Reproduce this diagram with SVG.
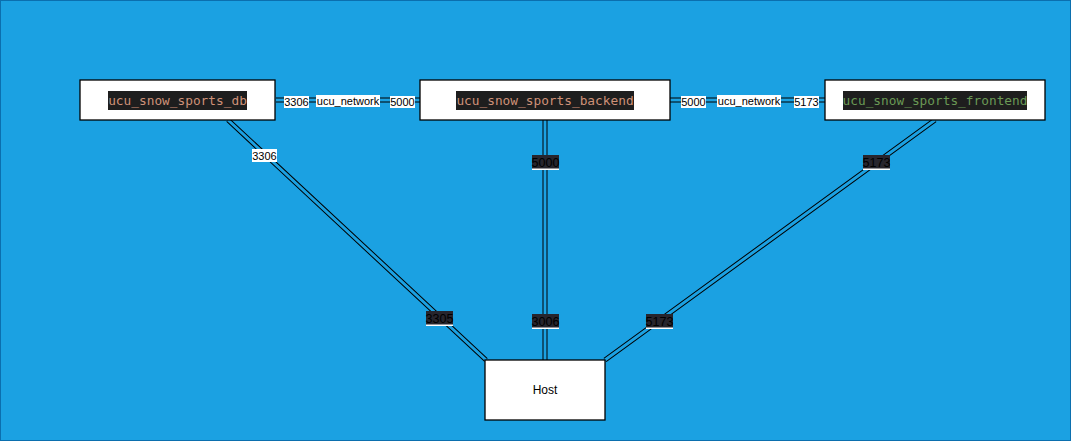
<svg xmlns="http://www.w3.org/2000/svg" width="1071" height="441" viewBox="0 0 1071 441">
<style>
.box{fill:#ffffff;stroke:#000000;stroke-width:1.3}
.mono{font-family:"DejaVu Sans Mono","Liberation Mono",monospace;font-size:12.8px;text-anchor:middle}
.lbl{font-family:"Liberation Sans",Arial,sans-serif;font-size:11px;text-anchor:middle;fill:#000}
.dlbl{font-family:"Liberation Sans",Arial,sans-serif;font-size:12.5px;text-anchor:middle;fill:#000}
.outer{fill:none;stroke:#000;stroke-width:5}
.inner{fill:none;stroke:#1ba1e2;stroke-width:3}
.wbg{fill:#ffffff}
.dbg{fill:#27252d}
</style>
<rect x="0.5" y="0.5" width="1070" height="440" fill="#1ba1e2" stroke="#0b6fae" stroke-width="1"/>
<g id="connectors">
  <path class="outer" d="M276 100 H420 M670 100 H825 M228 120 L486 360 M545 120 V360 M935 120 L605 360"/>
  <path class="inner" d="M275 100 H421 M669 100 H826 M228 120 L486 360 M545 120 V360 M935 120 L605 360"/>
  <g id="label-db-backend">
    <rect class="wbg" x="284" y="96" width="25" height="12"/><text class="lbl" x="296.5" y="106">3306</text>
    <rect class="wbg" x="316" y="95" width="64" height="12"/><text class="lbl" x="348" y="104.5">ucu_network</text>
    <rect class="wbg" x="390" y="96" width="25" height="12"/><text class="lbl" x="402.5" y="106">5000</text>
  </g>
  <g id="label-backend-frontend">
    <rect class="wbg" x="681" y="96" width="25" height="12"/><text class="lbl" x="693.5" y="106">5000</text>
    <rect class="wbg" x="717" y="95" width="64" height="12"/><text class="lbl" x="749" y="104.5">ucu_network</text>
    <rect class="wbg" x="794" y="96" width="25" height="12"/><text class="lbl" x="806.5" y="106">5173</text>
  </g>
  <g id="label-db-host">
    <rect class="wbg" x="252" y="149" width="25" height="13"/><text class="lbl" x="264.5" y="159.5">3306</text>
    <rect class="wbg" x="426" y="311" width="27" height="15"/><rect class="dbg" x="426" y="311" width="27" height="13.5"/><text class="dlbl" x="439.5" y="323">3305</text>
  </g>
  <g id="label-backend-host">
    <rect class="wbg" x="532" y="155" width="27" height="15"/><rect class="dbg" x="532" y="155" width="27" height="13.5"/><text class="dlbl" x="545.5" y="167">5000</text>
    <rect class="wbg" x="532" y="314" width="27" height="15"/><rect class="dbg" x="532" y="314" width="27" height="13.5"/><text class="dlbl" x="545.5" y="326">3006</text>
  </g>
  <g id="label-frontend-host">
    <rect class="wbg" x="863" y="155" width="27" height="15"/><rect class="dbg" x="863" y="155" width="27" height="13.5"/><text class="dlbl" x="876.5" y="167">5173</text>
    <rect class="wbg" x="646" y="314" width="27" height="15"/><rect class="dbg" x="646" y="314" width="27" height="13.5"/><text class="dlbl" x="659.5" y="326">5173</text>
  </g>
</g>
<g id="node-db">
  <rect class="box" x="80" y="80" width="195" height="40"/>
  <rect x="108" y="91" width="139" height="19" fill="#1e1e1e"/>
  <text class="mono" x="177.5" y="105" fill="#ce9178">ucu_snow_sports_db</text>
</g>
<g id="node-backend">
  <rect class="box" x="420" y="80" width="250" height="40"/>
  <rect x="456" y="91" width="178" height="19" fill="#1e1e1e"/>
  <text class="mono" x="545" y="105" fill="#ce9178">ucu_snow_sports_backend</text>
</g>
<g id="node-frontend">
  <rect class="box" x="825" y="80" width="220" height="40"/>
  <rect x="843" y="91" width="184" height="19" fill="#1e1e1e"/>
  <text class="mono" x="935" y="105" fill="#6a9955">ucu_snow_sports_frontend</text>
</g>
<g id="node-host">
  <rect class="box" x="485" y="360" width="120" height="60"/>
  <text x="545" y="394" font-family="'Liberation Sans',Arial,sans-serif" font-size="12" text-anchor="middle" fill="#000">Host</text>
</g>
</svg>
